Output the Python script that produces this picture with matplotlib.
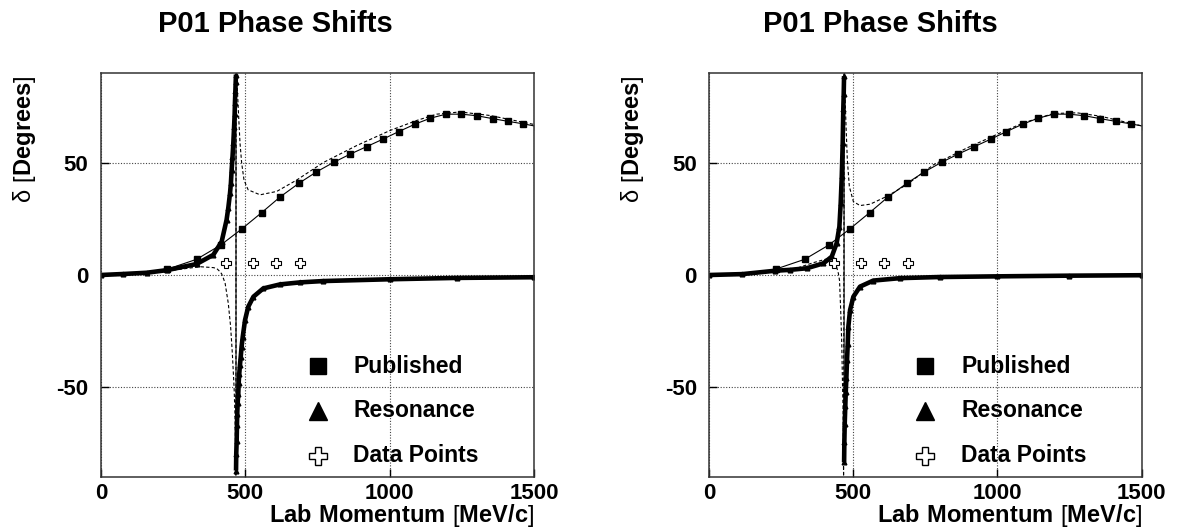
import matplotlib
matplotlib.use('Agg')
import matplotlib.pyplot as plt

plt.rcParams['font.family'] = ['Liberation Sans', 'DejaVu Sans']
plt.rcParams['mathtext.fontset'] = 'custom'
plt.rcParams['mathtext.rm'] = 'Liberation Sans'
plt.rcParams['mathtext.bf'] = 'Liberation Sans:bold'

# published phase shifts (same in both panels)
pub_x = [230, 331, 415, 488, 557, 621, 685, 746, 806, 864, 920, 976, 1031,
         1087, 1141, 1195, 1248, 1302, 1357, 1410, 1462, 1515]
pub_y = [2.6, 7.0, 13.4, 20.6, 27.9, 34.9, 40.9, 46.0, 50.3, 54.0, 57.3, 60.6,
         64.0, 67.3, 70.0, 71.8, 71.8, 71.1, 69.8, 68.6, 67.5, 66.2]

# data points
data_x = [433, 525, 605, 688]
data_y = [5.2, 5.2, 5.2, 5.2]

# left panel: resonance curve (upper branch, then lower branch)
res1_x = [0, 77, 158, 230, 331, 389, 418, 435, 441, 447, 450, 452.6, 455.5,
          458.4, 461, 463, 464, 465.5, 466.5, 467.6,
          467.8, 468.5, 470, 471, 472, 473.5, 475.6, 477, 479, 481.5, 484, 487,
          491, 499, 510, 528, 562, 620, 689, 770, 1001, 1232, 1500]
res1_y = [0, 0.45, 1.0, 2.2, 4.9, 9.0, 14.9, 24.6, 30, 36.6, 41, 47, 52.5,
          59, 66, 72, 76.9, 82, 86, 89.5,
          -87.3, -80, -73.9, -67, -61.9, -57, -53, -48, -44, -40, -36.6, -32,
          -27.6, -20.1, -14.2, -9.7, -6.0, -4.2, -3.3, -2.7, -1.9, -1.3, -1.0]
res1_split = 20

# left panel: dashed curve
dash1_x = [0, 115, 229, 343, 389, 401, 412, 418, 424, 430, 441, 449, 455, 461,
           464, 466.5, 467.3, 468, 470, 475.6, 481.5, 487.3, 495.3, 504.6, 510,
           551, 608.6, 678, 770, 886, 1001, 1094, 1163, 1244, 1348, 1500]
dash1_y = [0, 0.6, 1.8, 3.7, 3.3, 2.9, 1.5, 0.5, -1.5, -3.7, -12.7, -23, -35,
           -50, -62, -80, -89.9, 89.9, 89.5, 73.9, 59, 50, 42.5, 39.5, 38,
           35.8, 37.3, 42.4, 50.2, 57.8, 64.5, 69.0, 71.8, 72.8, 71.2, 67.2]

# right panel: resonance curve
res2_x = [0, 115, 228, 280, 338, 396, 425, 442, 451.5, 456, 459.7, 463, 465,
          466.5, 467.7,
          467.9, 468.7, 470, 472, 473.6, 475.7, 478, 480.5, 482.6, 488.5, 500,
          523, 569, 662, 800, 1000, 1250, 1500]
res2_y = [0, 0.4, 1.9, 2.3, 3.0, 5.2, 8.2, 14.2, 21.6, 32.1, 44, 59, 73.9,
          81, 88.8,
          -83.6, -74.6, -66.4, -58.6, -52.2, -46.2, -38, -30.6, -23.1, -15.7,
          -9.7, -5.2, -2.5, -1.4, -0.9, -0.6, -0.3, -0.1]
res2_split = 15

# right panel: dashed curve
dash2_x = [0, 115, 228, 303, 361, 408, 425, 436, 440, 448, 452, 456, 459.7,
           461.8, 464.3, 465.3, 466, 468.2, 468.7, 474.6, 479, 486, 500, 523,
           558, 616, 685, 778, 894, 1009, 1090, 1194, 1276, 1357, 1500]
dash2_y = [0, 0.5, 2.0, 3.0, 5.5, 7.2, 7.0, 5.5, 4.5, 0.7, -2.5, -15.7, -30.6,
           -45.5, -60.4, -76.9, -89.9, 89.9, 88.8, 66.4, 51.5, 39.5, 32.8, 31.0,
           31.6, 35.1, 40.3, 49.2, 56.7, 63.4, 67.9, 72.1, 72.4, 70.9, 66.6]

x_ticks = [0, 500, 1000, 1500]
x_tick_labels = ['0', '500', '1000', '1500']
y_ticks = [-50, 0, 50]
y_tick_labels = ['-50', '0', '50']

legend_labels = ['Published', 'Resonance', 'Data Points']

W, H = 1188, 531
fig = plt.figure(figsize=(W / 100, H / 100), dpi=100)


def draw_panel(ax, res_x, res_y, split, dash_x, dash_y):
    ax.set_xlim(0, 1500)
    ax.set_ylim(-90, 90)
    ax.set_xticks(x_ticks)
    ax.set_xticklabels(x_tick_labels, fontweight='bold')
    ax.set_yticks(y_ticks)
    ax.set_yticklabels(y_tick_labels, fontweight='bold')
    ax.tick_params(direction='in', length=6, width=1, labelsize=16)
    ax.tick_params(axis='x', pad=4.5)
    ax.tick_params(axis='y', pad=9)
    for s in ax.spines.values():
        s.set_linewidth(1.1)
        s.set_color('#333333')
    ax.grid(True, linestyle=(0, (1, 1.5)), color='#444444', lw=0.8)
    ax.set_axisbelow(True)

    # resonance: thick body per branch, thin line with triangles across all
    ax.plot(res_x[:split], res_y[:split], color='black', lw=3.3,
            solid_capstyle='butt')
    ax.plot(res_x[split:], res_y[split:], color='black', lw=3.3,
            solid_capstyle='butt')
    ax.plot(res_x, res_y, color='black', lw=0.8, marker='^', ms=3.4)

    ax.plot(dash_x, dash_y, color='black', lw=0.8, linestyle=(0, (3, 2)))
    ax.plot(pub_x, pub_y, color='black', lw=0.8, marker='s', ms=4.5)
    ax.plot(data_x, data_y, linestyle='none', marker='P', ms=7,
            mfc='white', mec='black', mew=0.8)

    # legend drawn by hand
    tr = ax.transAxes
    ly = [0.274, 0.163, 0.052]
    ax.plot([0.50], [ly[0]], transform=tr, marker='s', ms=12, color='black',
            linestyle='none')
    ax.plot([0.50], [ly[1]], transform=tr, marker='^', ms=13, color='black',
            linestyle='none')
    ax.plot([0.50], [ly[2]], transform=tr, marker='P', ms=13, mfc='white',
            mec='black', mew=1, linestyle='none')
    for y, lab in zip(ly, legend_labels):
        ax.text(0.583, y, lab, transform=tr, fontsize=16.5, fontweight='bold',
                ha='left', va='center')


ylabel = r'$\mathrm{\delta\ [}\mathbf{Degrees}\mathrm{]}$'
xlabel = r'$\mathbf{Lab\ Momentum}\ \mathrm{[}\mathbf{MeV/c}\mathrm{]}$'

panels = [
    (101, 534, res1_x, res1_y, res1_split, dash1_x, dash1_y, 275),
    (709.3, 1141.5, res2_x, res2_y, res2_split, dash2_x, dash2_y, 880),
]
top_px, bot_px = 73.4, 476.6
for x0, x1, rx, ry, sp, dx, dy, title_x in panels:
    ax = fig.add_axes([x0 / W, 1 - bot_px / H, (x1 - x0) / W,
                       (bot_px - top_px) / H])
    draw_panel(ax, rx, ry, sp, dx, dy)
    fig.text(title_x / W, 1 - 31.7 / H, 'P01 Phase Shifts', fontsize=21,
             fontweight='bold', ha='center', va='baseline')
    fig.text((x0 - 77) / W, 1 - 75 / H, ylabel, rotation=90, fontsize=17,
             ha='center', va='top')
    fig.text((x1 + 0.5) / W, 1 - 522 / H, xlabel, fontsize=17,
             ha='right', va='baseline')

fig.savefig('out.png', dpi=100)
